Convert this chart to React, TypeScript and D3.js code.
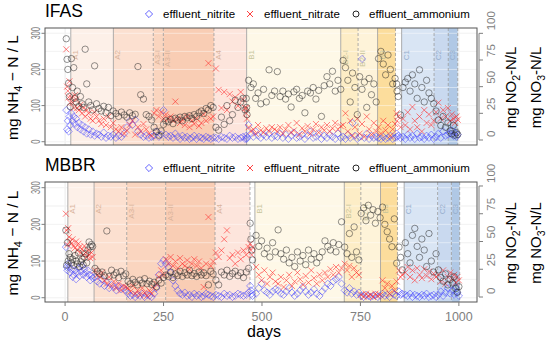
import React from 'react';
import * as d3 from 'd3';

// IFAS reactor: sampling days and effluent concentrations
const ifasDays = [
  3, 5, 7, 9, 11, 13,
  16, 19, 22, 25, 28, 31,
  35, 39, 43, 47, 51, 55,
  60, 65, 70, 75, 80,
  86, 92, 98, 104, 110, 116, 122,
  129, 136, 143, 150, 157, 164, 171, 178, 185, 192, 199, 206, 213, 220,
  226, 232, 238, 244, 250,
  256, 262, 268, 274, 280, 286, 292, 298, 304, 310, 316, 322, 328, 334, 340, 346, 352, 358, 364, 370, 376,
  383, 390, 397, 404, 411, 418, 425, 432, 439, 446, 452, 457,
  460, 461, 462,
  466, 472, 478, 484, 490, 497, 504, 511, 518, 525, 532,
  539, 546, 553, 560, 567, 574, 581, 588, 595, 602, 609, 616, 623, 630, 637, 644, 651, 658, 665, 672, 679, 686, 693, 700,
  706, 712, 718, 724, 730, 736, 742, 748, 754, 760, 766, 772, 778, 784, 790,
  796, 802, 808, 814, 820, 826, 832, 838,
  842, 843, 846,
  852,
  858, 864, 870, 876, 882, 888, 894, 900, 906, 912, 918, 924, 930, 936,
  942, 948, 954, 960, 966, 972,
  978, 982, 986, 990, 994, 997,
];
const ifasAmmonium = [
  285, 228, 200, 162, 125, 97,
  230, 150, 205, 120, 110, 140,
  98, 125, 105, 95, 256, 160,
  110, 100, 88, 210, 105,
  92, 85, 98, 80, 95, 72, 85,
  78, 70, 82, 74, 68, 80, 72, 76, 208, 130, 118, 75, 70, 60,
  40, 28, 18, 30, 48,
  58, 55, 62, 50, 65, 60, 68, 58, 70, 66, 72, 64, 75, 70, 80, 85, 78, 92, 88, 100, 95,
  40, 32, 68, 48, 100, 58, 75, 115, 95, 110, 120, 88,
  120, 95, 75,
  170, 150, 160, 120, 135, 105, 145, 110, 199, 128, 140,
  194, 125, 140, 118, 132, 96, 138, 145, 120, 128, 80, 140, 135, 150, 118, 142, 70, 155, 180, 160, 195, 140, 170, 145,
  225, 205, 170, 110, 190, 150, 75, 180, 145, 165, 95, 175, 130, 160, 110,
  230, 250, 215, 185, 240, 200, 160, 175,
  160, 140, 125,
  74,
  150, 165, 175, 140, 185, 160, 120, 199, 150, 110, 170, 135, 120, 105,
  85, 60, 45, 70, 40, 52,
  30, 22, 45, 18, 25, 20,
];
const ifasNitrate = [
  85, 50, 46, 40, 55, 35,
  40, 35, 30, 42, 38, 30,
  28, 33, 25, 30, 22, 28,
  25, 20, 18, 26, 22,
  18, 15, 20, 14, 22, 12, 16,
  10, 8, 12, 6, 9, 14, 18, 5, 12, 8, 15, 10, 6, 4,
  25, 28, 22, 26, 20,
  24, 20, 22, 18, 36, 20, 16, 19, 14, 22, 12, 18, 15, 20, 13, 16, 24, 18, 72, 20, 22,
  67, 47, 30, 45, 28, 43, 36, 40, 32, 45, 38, 30,
  25, 30, 20,
  12, 8, 10, 6, 14, 9, 7, 11, 8, 12, 10,
  8, 12, 6, 10, 14, 7, 9, 16, 5, 11, 8, 13, 6, 10, 15, 7, 12, 9, 14, 8, 11, 16, 10, 13,
  14, 25, 8, 18, 4, 12, 20, 6, 15, 3, 22, 10, 5, 16, 8,
  12, 6, 18, 9, 14, 4, 10, 15,
  25, 18, 22,
  12,
  20, 14, 26, 10, 31, 18, 12, 22, 8, 28, 16, 24, 14, 18,
  26, 35, 20, 28, 22, 30,
  18, 24, 20, 16, 22, 19,
];
const ifasNitrite = [
  28, 10, 18, 8, 22, 14,
  25, 18, 22, 15, 20, 12,
  16, 10, 14, 8, 12, 6,
  10, 5, 8, 4, 6,
  5, 3, 7, 2, 4, 3, 5,
  2, 4, 3, 6, 12, 18, 14, 19, 8, 5, 3, 4, 2, 3,
  4, 8, 3, 5, 28,
  5, 3, 4, 2, 6, 3, 1, 4, 2, 3, 1, 2, 4, 1, 3, 2, 1, 3, 2, 1, 2,
  2, 1, 3, 2, 1, 4, 2, 3, 1, 2, 3, 1,
  4, 1, 2,
  14, 6, 3, 8, 4, 2, 5, 3, 6, 2, 4,
  3, 6, 2, 5, 1, 4, 7, 2, 3, 5, 1, 4, 8, 2, 3, 6, 1, 4, 2, 5, 3, 1, 6, 2,
  3, 1, 5, 2, 16, 4, 1, 3, 76, 2, 6, 1, 4, 2, 3,
  2, 1, 3, 1, 2, 4, 1, 2,
  6, 3, 4,
  2,
  3, 1, 5, 2, 4, 1, 6, 2, 3, 1, 4, 2, 5, 1,
  3, 6, 2, 8, 4, 5,
  6, 9, 4, 7, 3, 5,
];

// MBBR reactor
const mbbrDays = [
  2, 4, 6, 8,
  10, 13, 16, 19, 22, 25, 28, 31, 34, 37, 40, 43, 46, 49, 52, 55, 58, 61, 64, 67, 70,
  76, 82, 88, 94, 100, 106, 112, 118, 124, 130, 136, 142, 148, 154,
  160, 166, 172, 178, 184, 190, 196, 202, 208, 214, 220, 226, 232, 238, 244, 250,
  256, 262, 268, 274, 280, 286, 292, 298, 304, 310, 316, 322, 328, 334, 340, 346, 352, 358, 364, 370, 376,
  383, 390, 397, 404, 411, 418, 425, 432, 439, 446, 453, 460, 466,
  470, 472, 474, 476,
  485, 492, 499, 506, 513, 520, 527, 534,
  541, 548, 555, 562, 569, 576, 583, 590, 597, 604, 611, 618, 625, 632, 639, 646, 653, 660, 667, 674, 681, 688, 695, 702,
  710, 716, 722, 728, 734, 740, 746,
  752, 758, 764, 770, 776, 782, 788, 794, 800,
  806, 812, 818, 824, 830, 836, 842,
  848, 852, 856,
  864, 870, 876, 882, 888, 894, 900, 906, 912, 918, 924, 930, 936, 942,
  948, 954, 960, 966, 972, 978,
  984, 988, 992, 996, 1000,
];
const mbbrAmmonium = [
  184, 89, 150, 100,
  120, 110, 95, 105, 88, 115, 100, 92, 122, 85, 98, 105, 90, 110, 120, 95, 130, 152, 139, 145, 140,
  80, 72, 65, 70, 60, 182, 58, 75, 62, 68, 55, 72, 60, 65,
  45, 38, 50, 42, 35, 48, 40, 52, 38, 45, 36, 42, 30, 48, 40, 55,
  62, 58, 70, 55, 65, 60, 72, 58, 68, 62, 75, 60, 66, 58, 70, 62, 68, 60, 35, 72, 65,
  48, 35, 70, 62, 75, 58, 66, 72, 60, 68, 55, 70, 80,
  203, 160, 130, 103,
  170, 140, 155, 120, 135, 111, 150, 125,
  185, 120, 105, 130, 95, 110, 85, 125, 100, 115, 90, 130, 105, 120, 95, 110, 125, 155, 140, 130, 150, 125, 145, 207,
  138, 120, 175, 110, 193, 125, 103,
  230, 245, 210, 252, 225, 240, 203, 235, 218,
  247, 200, 180, 160, 139, 215, 94,
  138, 110, 76,
  150, 120, 95, 170, 189, 140, 110, 160, 130, 85, 175, 100, 70, 120,
  76, 55, 45, 65, 35, 50,
  40, 57, 25, 15, 30,
];
const mbbrNitrate = [
  75, 60, 47, 62,
  54, 50, 48, 52, 46, 44, 50, 42, 48, 45, 40, 43, 38, 46, 40, 36, 42, 38, 35, 40, 36,
  24, 20, 18, 22, 15, 12, 18, 10, 14, 8, 12, 6, 10, 9,
  8, 5, 10, 3, 6, 2, 8, 4, 1, 6, 3, 8, 12, 18, 24, 20,
  34, 30, 36, 28, 32, 26, 35, 30, 28, 33, 25, 30, 34, 28, 32, 26, 9, 30, 72, 28, 32,
  40, 36, 42, 52, 60, 35, 38, 30, 40, 34, 42, 38, 45,
  48, 42, 38, 45,
  27, 20, 15, 24, 12, 18, 22, 14,
  12, 18, 9, 15, 20, 10, 14, 22, 16, 11, 19, 13, 24, 17, 12, 20, 15, 22, 18, 25, 20, 27, 22, 26,
  30, 24, 28, 18, 26, 22, 20,
  2, 0, 3, 1, 2, 0, 3, 1, 2,
  15, 8, 12, 3, 10, 6, 14,
  24, 18, 20,
  22, 27, 18, 24, 15, 26, 20, 17, 25, 19, 23, 16, 21, 18,
  20, 14, 24, 12, 18, 22,
  16, 20, 13, 18, 15,
];
const mbbrNitrite = [
  45, 27, 24, 30,
  27, 22, 25, 18, 20, 24, 16, 22, 26, 19, 23, 28, 20, 25, 22, 18, 24, 20, 15, 19, 17,
  18, 14, 12, 16, 10, 13, 8, 11, 9, 6, 10, 7, 8, 6,
  3, 1, 2, 0, 2, 1, 3, 0, 2, 1, 0, 3, 8, 20, 30, 33,
  30, 27, 22, 15, 10, 6, 3, 2, 4, 1, 2, 0, 3, 1, 2, 0, 1, 3, 2, 1, 0,
  2, 1, 0, 3, 1, 2, 0, 1, 3, 2, 1, 2, 4,
  10, 6, 3, 1,
  3, 8, 12, 6, 4, 2, 5, 7,
  6, 3, 2, 5, 8, 4, 1, 3, 6, 9, 5, 2, 4, 7, 3, 1, 5, 8, 12, 10, 14, 16, 18, 12,
  6, 4, 8, 3, 5, 2, 4,
  1, 0, 2, 1, 0, 1, 2, 0, 1,
  3, 1, 2, 0, 4, 2, 1,
  5, 2, 3,
  2, 1, 3, 0, 2, 1, 0, 2, 1, 3, 0, 1, 2, 0,
  2, 5, 1, 4, 8, 3,
  6, 2, 9, 4, 1,
];

// operating phases (day ranges)
const phaseLabels = ['A1', 'A2', 'A3-I', 'A3-II', 'A4', 'B1', 'B2-I', 'B2-II', 'B3', 'C1', 'C2', 'C3'];
const ifasPhaseStart = [14.5, 122.6, 224, 249.5, 378, 461, 700, 744, 793.6, 854.6, 937, 973];
const ifasPhaseEnd = [122.6, 224, 249.5, 378, 461, 700, 744, 793.6, 839, 937, 973, 997];
const mbbrPhaseStart = [7, 73.6, 156.5, 255.5, 380.7, 482, 709, 751, 801, 861, 946, 981];
const mbbrPhaseEnd = [73.6, 156.5, 255.5, 380.7, 469.5, 709, 751, 801, 844, 946, 981, 1002];

const xTicks = [0, 250, 500, 750, 1000];
const leftTicks = [0, 100, 200, 300];
const rightTicks = [0, 25, 50, 75, 100];
const seriesNames = ['effluent_nitrite', 'effluent_nitrate', 'effluent_ammonium'];

const phaseFill: Record<string, string> = {
  'A1': '#fdf0e8', 'A2': '#fce0d0', 'A3-I': '#fad5bf', 'A3-II': '#f9cdb4', 'A4': '#fde5dc',
  'B1': '#fef8e7', 'B2-I': '#fdedc6', 'B2-II': '#fef3d9', 'B3': '#fcdd9c',
  'C1': '#d9e5f4', 'C2': '#c9d9ef', 'C3': '#b0c8e5',
};
const phaseDash: Record<string, string | undefined> = {
  'A1': undefined, 'A2': undefined, 'A3-I': '3,2', 'A3-II': '3,2', 'A4': '3,2',
  'B1': undefined, 'B2-I': undefined, 'B2-II': '3,2', 'B3': undefined,
  'C1': undefined, 'C2': '3,2', 'C3': '3,2',
};
const labelColor: Record<string, string> = { A: '#d9b49c', B: '#c6c49a', C: '#95aecd' };

const FONT = '"Liberation Sans", Arial, sans-serif';
const NITRITE = '#3c3cff';
const NITRATE = '#ff2b2b';
const AMMONIUM = '#262626';

const x = d3.scaleLinear().domain([-51, 1046]).range([45, 477]);

interface PanelProps {
  id: string;
  title: string;
  days: number[];
  nitrite: number[];
  nitrate: number[];
  ammonium: number[];
  starts: number[];
  ends: number[];
  top: number;
  bottom: number;
  leftDomain: [number, number];
  rightDomain: [number, number];
  showX: boolean;
}

const Diamond = ({ cx, cy, color, op }: { cx: number; cy: number; color: string; op: number }) => (
  <path d={`M${cx},${cy - 3.6}L${cx + 3.6},${cy}L${cx},${cy + 3.6}L${cx - 3.6},${cy}Z`}
    fill="none" stroke={color} strokeOpacity={op} strokeWidth={1} />
);
const Cross = ({ cx, cy, color, op }: { cx: number; cy: number; color: string; op: number }) => (
  <path d={`M${cx - 3},${cy - 3}L${cx + 3},${cy + 3}M${cx - 3},${cy + 3}L${cx + 3},${cy - 3}`}
    stroke={color} strokeOpacity={op} strokeWidth={1} />
);

const Panel: React.FC<PanelProps> = (p) => {
  const yL = d3.scaleLinear().domain(p.leftDomain).range([p.bottom, p.top]);
  const yR = d3.scaleLinear().domain(p.rightDomain).range([p.bottom, p.top]);
  const left = 45, right = 477;
  const h = p.bottom - p.top;
  const legY = p.top - 14;
  const gridY = d3.range(0, 301, 50);
  const gridX = d3.range(0, 1001, 125);

  return (
    <g>
      <defs>
        <clipPath id={`clip-${p.id}`}>
          <rect x={left} y={p.top} width={right - left} height={h} />
        </clipPath>
      </defs>
      <rect x={left} y={p.top} width={right - left} height={h} fill="#fff" />
      {gridY.map(v => (
        <line key={`gy${v}`} x1={left} x2={right} y1={yL(v)} y2={yL(v)} stroke="#ebebeb" />
      ))}
      {gridX.map(v => (
        <line key={`gx${v}`} x1={x(v)} x2={x(v)} y1={p.top} y2={p.bottom} stroke="#ebebeb" />
      ))}
      {phaseLabels.map((lab, i) => (
        <rect key={`ph${lab}`} x={x(p.starts[i])} y={p.top} width={x(p.ends[i]) - x(p.starts[i])}
          height={h} fill={phaseFill[lab]} />
      ))}
      {gridY.map(v => (
        <line key={`wy${v}`} x1={left} x2={right} y1={yL(v)} y2={yL(v)} stroke="#fff" strokeOpacity={0.45} />
      ))}
      {phaseLabels.map((lab, i) => (
        <line key={`pl${lab}`} x1={x(p.starts[i])} x2={x(p.starts[i])} y1={p.top} y2={p.bottom}
          stroke="#9a9a9a" strokeWidth={0.8} strokeDasharray={phaseDash[lab]} />
      ))}
      {phaseLabels.map((lab, i) => (p.starts.includes(p.ends[i]) ? null : (
        <line key={`pe${lab}`} x1={x(p.ends[i])} x2={x(p.ends[i])} y1={p.top} y2={p.bottom}
          stroke="#9a9a9a" strokeWidth={0.8} strokeDasharray="3,2" />
      )))}
      {phaseLabels.map((lab, i) => (
        <text key={`pt${lab}`} transform={`translate(${x(p.starts[i]) + 7},${p.top + 22}) rotate(-90)`}
          textAnchor="end" fontSize={8} fontFamily={FONT} fill={labelColor[lab[0]]}>{lab}</text>
      ))}
      <g clipPath={`url(#clip-${p.id})`}>
        {p.days.map((d, i) => (
          <Diamond key={`n${i}`} cx={x(d)} cy={yR(p.nitrite[i])} color={NITRITE} op={0.5} />
        ))}
        {p.days.map((d, i) => (
          <Cross key={`r${i}`} cx={x(d)} cy={yR(p.nitrate[i])} color={NITRATE} op={0.6} />
        ))}
        {p.days.map((d, i) => (
          <circle key={`a${i}`} cx={x(d)} cy={yL(p.ammonium[i])} r={3.2} fill="none"
            stroke={AMMONIUM} strokeOpacity={0.5} />
        ))}
      </g>
      <rect x={left} y={p.top} width={right - left} height={h} fill="none" stroke="#555" strokeWidth={1} />

      {/* left axis */}
      {leftTicks.map(v => (
        <g key={`lt${v}`}>
          <line x1={41.5} x2={left} y1={yL(v)} y2={yL(v)} stroke="#7f7f7f" />
          <text transform={`translate(39.5,${yL(v)}) rotate(-90)`} textAnchor="middle" fontSize={12}
            fontFamily={FONT} fill="#808080" textLength={String(v).length * 4.2}
            lengthAdjust="spacingAndGlyphs">{v}</text>
        </g>
      ))}
      <text transform={`translate(18,${(p.top + p.bottom) / 2 + 1}) rotate(-90)`} textAnchor="middle"
        fontSize={15.5} fontFamily={FONT} fill="#000">
        mg NH<tspan fontSize={11} dy={4}>4</tspan><tspan dy={-4}> − N / L</tspan>
      </text>

      {/* right axis */}
      <line x1={479} x2={479} y1={yR(100)} y2={yR(0)} stroke="#7f7f7f" />
      {rightTicks.map(v => (
        <g key={`rt${v}`}>
          <line x1={479} x2={483} y1={yR(v)} y2={yR(v)} stroke="#7f7f7f" />
          <text transform={`translate(495,${yR(v) - 3}) rotate(-90)`} textAnchor="start" fontSize={11.5}
            fontFamily={FONT} fill="#808080">{v}</text>
        </g>
      ))}
      {['2', '3'].map((sub, k) => (
        <text key={`rtitle${sub}`} transform={`translate(${516 + k * 24.5},${(p.top + p.bottom) / 2 + 1}) rotate(-90)`}
          textAnchor="middle" fontSize={15} fontFamily={FONT} fill="#000">
          mg NO<tspan fontSize={10.5} dy={4}>{sub}</tspan><tspan dy={-4}>-N/L</tspan>
        </text>
      ))}

      {/* x axis */}
      {p.showX && xTicks.map(v => (
        <g key={`xt${v}`}>
          <line x1={x(v)} x2={x(v)} y1={p.bottom} y2={p.bottom + 4} stroke="#7f7f7f" />
          <text x={x(v)} y={320.5} textAnchor="middle" fontSize={12.5} fontFamily={FONT} fill="#808080">{v}</text>
        </g>
      ))}

      {/* title and legend */}
      <text x={45} y={p.top - 11} fontSize={17.5} fontFamily={FONT} fill="#000">{p.title}</text>
      <Diamond cx={149} cy={legY} color={NITRITE} op={0.8} />
      <Cross cx={250} cy={legY} color={NITRATE} op={0.9} />
      <circle cx={356} cy={legY} r={3} fill="none" stroke={AMMONIUM} strokeWidth={1} />
      {seriesNames.map((s, i) => (
        <text key={s} x={[163, 264, 369][i]} y={p.top - 10.5} fontSize={11.5} fontFamily={FONT} fill="#000">{s}</text>
      ))}
    </g>
  );
};

const App: React.FC = () => (
  <svg width={550} height={346} style={{ position: 'absolute', left: 0, top: 0, background: '#fff' }}>
    <Panel id="ifas" title="IFAS" days={ifasDays} nitrite={ifasNitrite} nitrate={ifasNitrate}
      ammonium={ifasAmmonium} starts={ifasPhaseStart} ends={ifasPhaseEnd}
      top={28} bottom={145} leftDomain={[-9.1, 314.7]} rightDomain={[-4.7, 105]} showX={false} />
    <Panel id="mbbr" title="MBBR" days={mbbrDays} nitrite={mbbrNitrite} nitrate={mbbrNitrate}
      ammonium={mbbrAmmonium} starts={mbbrPhaseStart} ends={mbbrPhaseEnd}
      top={182} bottom={302} leftDomain={[-11.7, 315.5]} rightDomain={[-4.5, 103.6]} showX={true} />
    <text x={264} y={337} textAnchor="middle" fontSize={16} fontFamily={FONT} fill="#000">days</text>
  </svg>
);

export default App;
